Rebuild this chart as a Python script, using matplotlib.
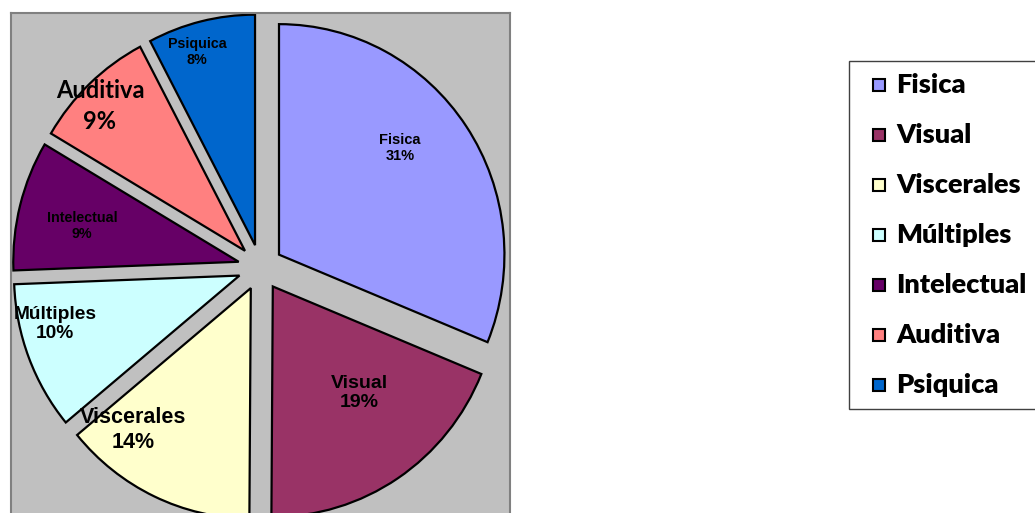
import matplotlib
matplotlib.use("Agg")
import matplotlib.pyplot as plt
from matplotlib.patches import Rectangle

# ── Data ─────────────────────────────────────────────────────────────────────
categories = ["Fisica", "Visual", "Viscerales", "Múltiples", "Intelectual", "Auditiva", "Psiquica"]
share = [31.2, 18.9, 13.9, 10.4, 9.1, 8.8, 7.7]
colors = ["#9999FF", "#993366", "#FFFFCC", "#CCFFFF", "#660066", "#FF8080", "#0066CC"]

# label placement (pixel coords of the reference image) and font styles
label_pos = [(400, 148), (359, 393), (133, 430), (55, 324), (82, 226), (100, 106), (197, 52)]
label_size = [10.5, 14, 15.5, 13.8, 10.3, 17, 10.3]
label_font = ["Liberation Sans"] * 5 + ["Lato", "Liberation Sans"]
label_lsp = [1.2, 1.2, 1.2, 1.2, 1.2, 1.45, 1.2]

W, H = 1035, 513
R = 230.5          # pie radius (px, vertical)
SQ = 0.978         # pie is slightly squashed horizontally
CX, CY = 260.4, H - 267.4

fig = plt.figure(figsize=(W / 100, H / 100), dpi=100)
fig.patch.set_facecolor("white")

# plot area: x 11..510 px, y 13 px down past the bottom edge
ax = fig.add_axes([11 / W, -20 / H, 499 / W, 520 / H])
wedges, _ = ax.pie(share, colors=colors, startangle=90, counterclock=False,
                   explode=[22.9] * len(share), radius=R, center=(CX, CY),
                   frame=True, wedgeprops=dict(edgecolor="black", linewidth=1.6))
ax.set_xlim(CX - (CX - 11) / SQ, CX + (510 - CX) / SQ)
ax.set_ylim(-20, 500)
ax.set_aspect("auto")
ax.set_xticks([]); ax.set_yticks([])
ax.set_facecolor("#C0C0C0")
for s in ax.spines.values():
    s.set_color("#808080")
    s.set_linewidth(1.5)

for name, v, (x, y), fs, fam, lsp in zip(categories, share, label_pos, label_size,
                                         label_font, label_lsp):
    fig.text(x / W, 1 - y / H, f"{name}\n{round(v)}%", ha="center", va="center",
             multialignment="center", linespacing=lsp,
             fontsize=fs, fontweight="bold", family=fam, color="black")

# ── Legend (drawn by hand to match box geometry) ────────────────────────────
fig.patches.append(Rectangle((849 / W, 1 - 409 / H), 200 / W, 348 / H,
                             transform=fig.transFigure, facecolor="white",
                             edgecolor="#404040", linewidth=1.0))
for i, (name, c) in enumerate(zip(categories, colors)):
    yc = 85 + 50 * i
    fig.patches.append(Rectangle((873 / W, 1 - (yc + 6) / H), 12 / W, 12 / H,
                                 transform=fig.transFigure, facecolor=c,
                                 edgecolor="black", linewidth=1.5))
    fig.text(896 / W, 1 - yc / H, name, ha="left", va="center",
             fontsize=19.5, fontweight="heavy", family="Lato", color="black")

fig.savefig("out.png", dpi=100)
